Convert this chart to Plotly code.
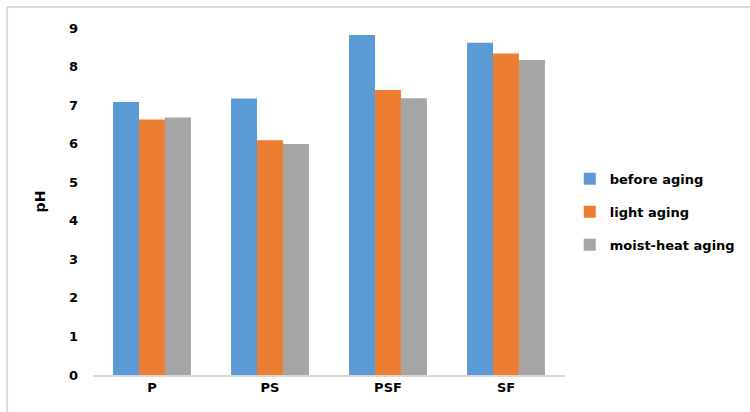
import plotly.graph_objects as go

categories = ["P", "PS", "PSF", "SF"]
before_aging = [7.08, 7.17, 8.82, 8.62]
light_aging = [6.63, 6.09, 7.39, 8.34]
moist_heat_aging = [6.68, 5.99, 7.18, 8.17]
y_ticks = list(range(0, 10))

series = [
    ("before aging", before_aging, "#5B9BD5"),
    ("light aging", light_aging, "#ED7D31"),
    ("moist-heat aging", moist_heat_aging, "#A5A5A5"),
]

fig = go.Figure()
for i, (name, vals, color) in enumerate(series):
    fig.add_trace(go.Bar(
        x=categories, y=vals, name=name,
        marker=dict(color=color, line=dict(width=0)),
        legendgroup=f"g{i}",
    ))

font_family = "DejaVu Sans"
fig.update_layout(
    width=750, height=412,
    margin=dict(l=93, r=185, t=28, b=37, autoexpand=False),
    paper_bgcolor="white", plot_bgcolor="white",
    barmode="group", bargap=0.34, bargroupgap=0,
    font=dict(family=font_family, size=13, color="#000000"),
    showlegend=True,
    legend=dict(
        x=1.01, y=0.47, xanchor="left", yanchor="middle",
        traceorder="grouped", tracegroupgap=13,
        font=dict(family=font_family, size=13, color="#000000", weight="bold"),
        itemwidth=30,
    ),
    xaxis=dict(
        showline=True, linecolor="#d9d9d9", linewidth=1.5,
        ticks="", showgrid=False,
        tickfont=dict(family=font_family, size=13, weight="bold"),
    ),
    yaxis=dict(
        range=[0, 9], tickvals=y_ticks, showgrid=False, zeroline=False,
        showline=False, ticks="", ticklabelstandoff=14,
        tickfont=dict(family=font_family, size=13, weight="bold"),
        title=dict(text="pH", standoff=20,
                   font=dict(family=font_family, size=14, weight="bold")),
    ),
    shapes=[
        dict(type="line", xref="paper", yref="paper",
             x0=-0.182, x1=-0.182, y0=1.0605, y1=-0.2,
             line=dict(color="#d9d9d9", width=2)),
        dict(type="line", xref="paper", yref="paper",
             x0=-0.182, x1=1.5, y0=1.0605, y1=1.0605,
             line=dict(color="#d9d9d9", width=2)),
    ],
)

fig.write_html("out.html")
